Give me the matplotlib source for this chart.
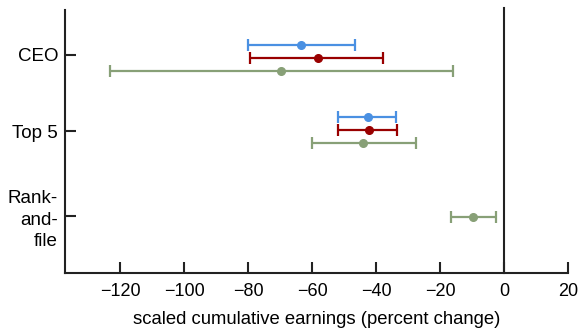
import matplotlib.pyplot as plt

plt.rcParams['font.family'] = ['Liberation Sans', 'DejaVu Sans']

# groups and their series (percent change)
groups = ['CEO', 'Top 5', 'Rank-\nand-\nfile']

blue_mid = [-63.5, -42.4]
blue_lo = [-80.0, -51.8]
blue_hi = [-46.6, -33.7]

red_mid = [-58.0, -42.3]
red_lo = [-79.4, -51.8]
red_hi = [-37.7, -33.3]

green_mid = [-69.7, -44.0, -9.6]
green_lo = [-123.0, -60.1, -16.6]
green_hi = [-16.0, -27.5, -2.5]

xticks = [-120, -100, -80, -60, -40, -20, 0, 20]

# vertical layout (rows, top to bottom)
tick_pos = [44.5, 121, 206]
blue_y = [35, 106.7]
red_y = [48, 120]
green_y = [60.7, 133.3, 206.7]

c_blue = '#4a90e2'
c_red = '#990000'
c_green = '#88a077'


def draw(ax, mid, lo, hi, ys, color):
    err = [[m - l for m, l in zip(mid, lo)], [h - m for m, h in zip(mid, hi)]]
    ax.errorbar(mid, ys, xerr=err, fmt='o', color=color, ecolor=color,
                elinewidth=1.6, capsize=4, capthick=1.6, markersize=5.5,
                zorder=3)


fig = plt.figure(figsize=(5.81, 3.29), dpi=100)
ax = fig.add_axes([65 / 581, 1 - 273 / 329, (568 - 65) / 581, (273 - 10) / 329])

draw(ax, blue_mid, blue_lo, blue_hi, blue_y, c_blue)
draw(ax, red_mid, red_lo, red_hi, red_y, c_red)
draw(ax, green_mid, green_lo, green_hi, green_y, c_green)

ax.axvline(0, color='#222222', linewidth=1.5, ymin=0, ymax=1.008, clip_on=False,
           zorder=2)

ax.set_xlim(-137.2, 20)
ax.set_ylim(263, 0)
ax.set_xticks(xticks)
ax.set_yticks(tick_pos)
ax.set_yticklabels(groups, ha='right', multialignment='right', fontsize=13.5,
                   linespacing=1.35)

ax.tick_params(axis='both', direction='in', length=8, width=1.5,
               color='#222222')
ax.tick_params(axis='x', pad=7, labelsize=13)
ax.tick_params(axis='y', pad=5)

for s in ['top', 'right']:
    ax.spines[s].set_visible(False)
for s in ['left', 'bottom']:
    ax.spines[s].set_linewidth(1.5)
    ax.spines[s].set_color('#222222')

ax.set_xlabel('scaled cumulative earnings (percent change)', fontsize=13.3,
              labelpad=8)

fig.savefig('out.png', dpi=100)
